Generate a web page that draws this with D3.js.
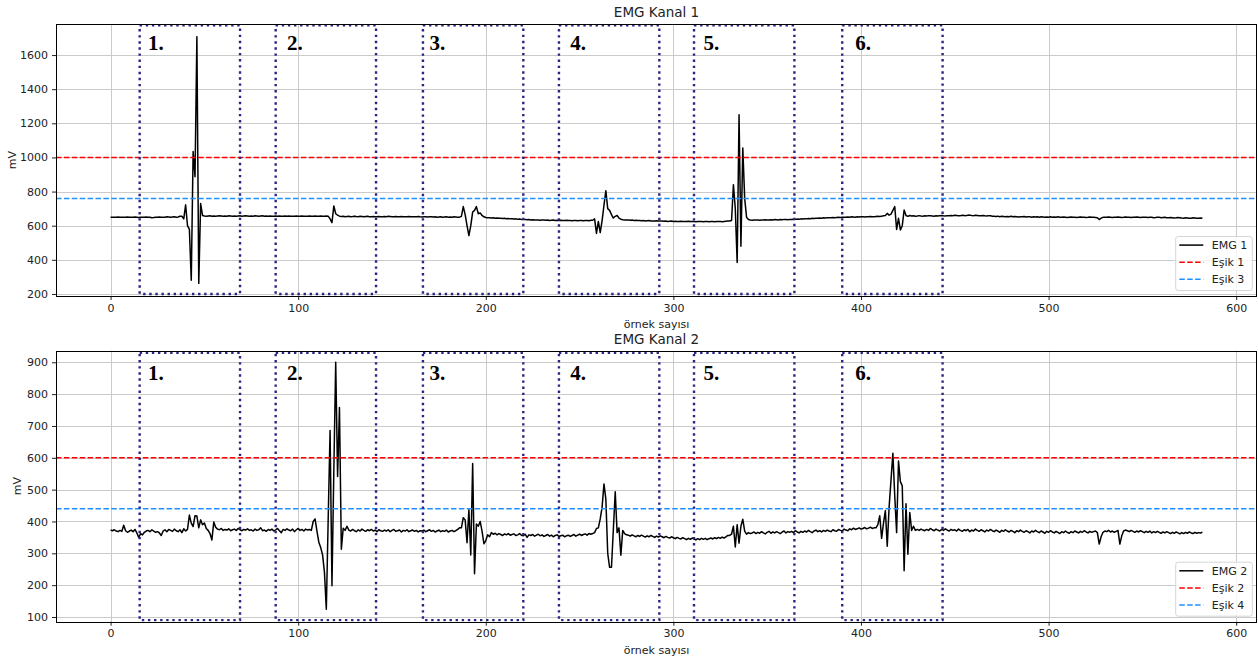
<!DOCTYPE html>
<html><head><meta charset="utf-8">
<script src="https://cdn.jsdelivr.net/npm/d3@7"></script>
<style>
body{margin:0;background:#fff}
svg{display:block}
text{font-family:"DejaVu Sans",sans-serif;fill:#222}
</style>
</head><body>
<svg id="chart" width="1258" height="660"></svg>
<script>
// ---- data ----
const emg1 = [
649,650,649,650,651,650,649,650,650,651,650,649,650,651,650,648,650,649,650,651,
650,649,647,648,650,649,651,650,649,650,652,651,650,651,652,650,651,655,
655,640,722,600,578,280,1035,887,1708,262,730,660,
657,656,657,658,656,657,656,657,658,657,656,657,656,658,657,656,657,656,657,658,
656,657,658,657,656,657,656,658,657,656,657,658,656,657,656,657,655,656,657,656,
657,656,655,657,656,657,656,655,656,657,656,655,657,656,655,656,657,655,656,657,
655,656,657,656,655,657,656,
640,618,716,670,662,656,
654,655,653,654,655,653,654,656,654,653,655,654,653,654,655,653,652,654,653,652,
654,653,652,654,653,655,654,652,653,654,652,653,654,653,652,653,654,652,653,652,
653,654,652,651,653,652,651,652,653,651,652,650,651,652,650,651,652,650,651,650,652,651,650,
650,655,712,665,600,542,600,680,690,712,670,675,660,652,
648,647,646,645,646,644,645,643,644,642,643,641,642,640,641,639,640,638,639,637,
636,637,635,636,634,635,633,634,633,632,634,633,632,633,631,632,633,631,632,631,
632,630,631,632,630,631,629,630,631,629,630,631,629,630,631,629,632,
632,640,555,625,560,630,720,805,700,690,665,645,655,660,645,638,635,
634,633,634,632,633,631,632,630,631,629,630,628,629,630,628,627,628,629,627,628,
627,626,627,625,626,627,625,626,624,625,626,624,625,624,626,625,624,625,623,624,
625,624,623,625,624,623,624,625,623,624,625,624,623,625,626,627,628,630,
840,700,385,1250,480,1055,760,650,636,633,
632,633,634,633,632,634,633,635,634,633,635,634,636,635,634,636,635,637,636,635,
637,636,638,637,639,638,640,639,641,640,642,641,643,642,644,643,645,644,646,645,
646,647,646,648,647,648,649,648,650,649,650,651,650,652,651,650,652,651,653,652,651,653,652,654,653,652,654,655,654,656,658,
660,672,662,668,690,712,578,643,575,600,692,660,655,660,
657,658,656,657,659,657,656,658,657,659,658,657,656,658,657,659,660,658,657,659,
658,660,659,661,660,658,659,661,660,659,661,662,660,659,661,660,658,659,660,658,657,659,658,656,
655,654,656,653,655,654,652,654,653,655,652,654,653,651,653,652,654,651,653,652,
650,652,651,653,650,652,651,649,651,650,652,649,651,650,652,650,649,651,650,648,
650,651,649,650,648,650,651,649,650,648,649,651,650,649,648,647,
636,644,649,650,
649,651,650,648,650,649,651,650,648,649,651,650,649,648,650,649,651,650,648,649,
650,649,648,650,649,647,648,650,649,647,648,649,647,646,648,647,645,646,648,647,
645,644,646,645,643,644,646,645,643,644,645,643
];
const emg2 = [
373,371,374,370,368,372,369,388,371,366,370,373,368,375,364,350,362,358,366,370,
372,368,374,370,366,368,364,356,370,374,368,375,372,369,376,371,368,374,365,377,
370,375,420,395,384,418,417,380,405,390,395,378,372,362,342,398,382,
376,374,378,372,375,373,377,371,374,376,372,378,374,371,375,373,377,372,374,370,
376,372,374,380,371,373,369,375,372,376,370,374,378,371,365,375,372,377,373,371,
376,368,374,378,372,375,370,376,373,375,
372,400,408,370,335,318,295,240,124,410,686,198,560,900,541,758,313,379,372,385,
373,370,375,371,368,374,370,376,372,369,374,371,375,370,373,368,374,371,369,373,
370,374,368,372,375,369,371,373,367,372,370,374,368,371,373,369,372,367,371,370,
373,368,371,374,369,372,367,370,373,368,371,369,373,367,370,372,368,371,375,380,
380,412,405,333,437,295,582,236,392,385,400,370,330,340,358,352,365,
360,363,358,362,359,356,361,358,362,357,359,361,356,358,362,357,355,360,350,358,
356,359,354,357,360,355,358,353,356,359,354,357,352,356,358,353,355,357,352,355,
357,353,356,359,354,357,360,356,359,361,357,362,360,
362,365,378,380,408,445,518,470,300,256,256,375,493,365,380,294,372,362,358,
357,354,358,355,352,356,353,357,354,351,355,352,356,353,350,354,351,355,352,349,
353,350,348,352,349,346,350,347,345,349,346,343,347,344,348,345,342,346,343,347,
344,347,343,346,348,345,349,346,350,347,351,348,352,356,
356,360,385,320,390,332,385,407,370,360,365,362,
364,367,362,366,363,368,364,361,366,369,363,367,364,368,365,362,367,370,364,368,
366,369,365,371,367,364,369,366,370,367,372,368,365,370,373,368,371,367,372,369,
373,370,368,374,371,369,375,372,370,376,373,371,377,374,379,375,377,380,376,378,381,377,379,382,378,380,
380,390,418,347,395,434,322,446,530,614,480,365,590,525,512,245,456,297,428,372,385,372,
375,372,376,373,371,375,372,378,374,371,376,373,370,375,372,377,373,370,375,372,
374,370,376,372,369,374,371,375,368,373,370,376,372,369,374,371,367,373,370,375,
371,368,373,370,366,372,369,374,370,367,372,369,365,371,368,373,369,366,371,368,
364,370,367,372,368,365,370,367,363,369,366,371,367,364,369,366,362,368,365,370,
366,363,368,365,370,367,364,369,366,371,367,364,369,366,368,370,365,
329,352,366,370,
368,372,367,370,366,369,372,
329,355,370,373,
371,368,372,369,366,370,367,371,368,365,369,366,370,364,368,365,369,366,363,367,
364,368,365,362,366,363,367,364,361,365,362,366,363,367,364,362,366,363,365,364,366
];
const seriesNames = ["EMG 1", "EMG 2"];
const titles = ["EMG Kanal 1", "EMG Kanal 2"];
const thresholdNames1 = ["Eşik 1", "Eşik 3"];
const thresholdValues1 = [1000, 760];
const thresholdNames2 = ["Eşik 2", "Eşik 4"];
const thresholdValues2 = [600, 440];
const thresholdColors = ["#ff0000", "#1e90ff"];
const boxLeft = [15.5, 88, 166.5, 239, 311, 390];
const boxRight = [69, 141.5, 220, 292.5, 364.5, 443.5];
const boxLabels = ["1.", "2.", "3.", "4.", "5.", "6."];
const boxLabelX = [20, 94, 170, 245, 316, 397];
const boxY1 = [200, 1775];
const boxY2 = [90, 930];
const boxLabelY1 = 1632;
const boxLabelY2 = 845;
const xTicks = [0, 100, 200, 300, 400, 500, 600];
const yTicks1 = [200, 400, 600, 800, 1000, 1200, 1400, 1600];
const yTicks2 = [100, 200, 300, 400, 500, 600, 700, 800, 900];
const xLabel = "örnek sayısı";
const yLabel = "mV";

// ---- drawing ----
const svg = d3.select("#chart");
const L = 56, R = 1257;
const x = d3.scaleLinear().domain([-29.1, 611.1]).range([L, R]);

function panel(idx, top, bottom, yDomain, data, yTicks, thrNames, thrVals, boxY, labelY, yLabelX) {
  const y = d3.scaleLinear().domain(yDomain).range([bottom, top]);
  const g = svg.append("g");
  const clipId = "clip" + idx;
  svg.append("clipPath").attr("id", clipId)
    .append("rect").attr("x", L).attr("y", top).attr("width", R - L).attr("height", bottom - top);

  // grid
  const grid = g.append("g").attr("stroke", "#cbcbcb").attr("stroke-width", 1);
  grid.selectAll("line.gx").data(xTicks).enter().append("line")
    .attr("x1", d => Math.round(x(d)) + 0.5).attr("x2", d => Math.round(x(d)) + 0.5)
    .attr("y1", top).attr("y2", bottom);
  grid.selectAll("line.gy").data(yTicks).enter().append("line")
    .attr("y1", d => Math.round(y(d)) + 0.5).attr("y2", d => Math.round(y(d)) + 0.5)
    .attr("x1", L).attr("x2", R);

  const plot = g.append("g").attr("clip-path", `url(#${clipId})`);
  // signal
  const line = d3.line().x((d, i) => x(i)).y(d => y(d));
  plot.append("path").datum(data).attr("d", line)
    .attr("fill", "none").attr("stroke", "#000").attr("stroke-width", 1.5)
    .attr("stroke-linejoin", "round");
  // thresholds
  thrVals.forEach((v, k) => {
    plot.append("line").attr("x1", L).attr("x2", R)
      .attr("y1", y(v)).attr("y2", y(v))
      .attr("stroke", thresholdColors[k]).attr("stroke-width", 1.5)
      .attr("stroke-dasharray", "5.5 2.4");
  });
  // dotted boxes
  boxLeft.forEach((b, k) => {
    plot.append("rect")
      .attr("x", x(b)).attr("y", y(boxY[1]))
      .attr("width", x(boxRight[k]) - x(b)).attr("height", y(boxY[0]) - y(boxY[1]))
      .attr("fill", "none").attr("stroke", "#2a2580").attr("stroke-width", 2.4)
      .attr("stroke-dasharray", "2.4 3.7");
    g.append("text").attr("x", x(boxLabelX[k])).attr("y", y(labelY))
      .style("font-family", "'Liberation Serif','Times New Roman',serif")
      .style("font-weight", "bold").style("font-size", "21px").style("fill", "#000")
      .text(boxLabels[k]);
  });

  // axes
  const xa = g.append("g").attr("transform", `translate(0,${bottom})`)
    .call(d3.axisBottom(x).tickValues(xTicks).tickSize(4).tickPadding(4).tickFormat(d3.format("d")));
  const ya = g.append("g").attr("transform", `translate(${L},0)`)
    .call(d3.axisLeft(y).tickValues(yTicks).tickSize(4).tickPadding(4).tickFormat(d3.format("d")));
  [xa, ya].forEach(a => {
    a.select(".domain").remove();
    a.selectAll("text").style("font-size", "11px").style("font-family", "'DejaVu Sans',sans-serif").attr("fill", "#222");
    a.selectAll("line").attr("stroke", "#222");
  });
  // frame
  g.append("rect").attr("x", L + 0.5).attr("y", Math.round(top) + 0.5)
    .attr("width", R - L - 1).attr("height", Math.round(bottom) - Math.round(top))
    .attr("fill", "none").attr("stroke", "#000").attr("stroke-width", 1);

  // titles / labels
  g.append("text").attr("x", (L + R) / 2).attr("y", top - 6.7).attr("text-anchor", "middle")
    .style("font-size", "13.5px").text(titles[idx]);
  g.append("text").attr("x", (L + R) / 2).attr("y", bottom + 31.8).attr("text-anchor", "middle")
    .style("font-size", "11px").text(xLabel);
  g.append("text").attr("transform", `translate(${yLabelX},${(top + bottom) / 2}) rotate(-90)`)
    .attr("text-anchor", "middle").style("font-size", "11px").text(yLabel);

  // legend
  const lw = 76.6, lh = 54;
  const lx = R - 4.7 - lw, ly = bottom - 5.5 - lh;
  const lg = g.append("g").attr("transform", `translate(${lx},${ly})`);
  lg.append("rect").attr("width", lw).attr("height", lh).attr("rx", 2.5)
    .attr("fill", "rgba(255,255,255,0.8)").attr("stroke", "#d5d5d5").attr("stroke-width", 1);
  const entries = [{name: seriesNames[idx], color: "#000", dash: null}]
    .concat(thrNames.map((n, k) => ({name: n, color: thresholdColors[k], dash: "5.5 2.4"})));
  entries.forEach((e, k) => {
    const cy = 8.6 + k * 17.1;
    lg.append("line").attr("x1", 3.6).attr("x2", 27.6).attr("y1", cy).attr("y2", cy)
      .attr("stroke", e.color).attr("stroke-width", 1.5).attr("stroke-dasharray", e.dash);
    lg.append("text").attr("x", 36).attr("y", cy + 4).style("font-size", "11px").text(e.name);
  });
}

panel(0, 24, 296, [188, 1782], emg1, yTicks1, thresholdNames1, thresholdValues1, boxY1, boxLabelY1, 15.7);
panel(1, 350.7, 621.7, [85.2, 936.4], emg2, yTicks2, thresholdNames2, thresholdValues2, boxY2, boxLabelY2, 20.7);
</script>
</body></html>
